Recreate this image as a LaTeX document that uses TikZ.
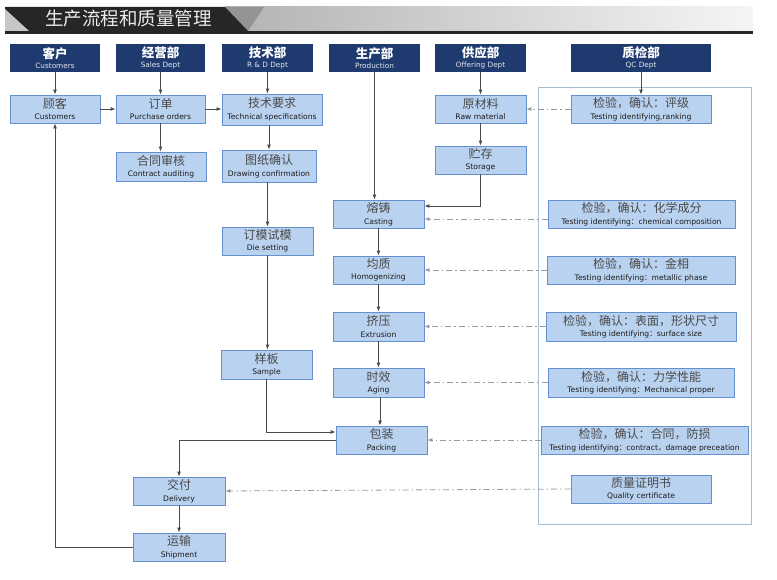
\documentclass[tikz,border=0pt]{standalone}
\usepackage{fontspec}
\usetikzlibrary{arrows.meta}
\newfontfamily\cjk{Noto Sans CJK SC}
\newfontfamily\en{DejaVu Sans}
\definecolor{navy}{HTML}{1E3A6E}
\definecolor{boxfill}{HTML}{B9D2F0}
\definecolor{boxline}{HTML}{6491CD}
\definecolor{cntext}{HTML}{4A4A4A}
\definecolor{entext}{HTML}{1A1A1A}
\definecolor{arrline}{HTML}{4A4A4A}
\definecolor{dashgray}{HTML}{9A9A9A}
\definecolor{qcframe}{HTML}{A8BCD2}
\definecolor{bandark}{HTML}{262626}
\newcommand{\hd}[2]{{\cjk\bfseries\fontsize{12.5}{13}\selectfont #1}\\[-1.5pt]{\en\color{white!88!navy}\fontsize{7.3}{8}\selectfont #2}}
\newcommand{\bx}[2]{{\cjk\color{cntext}\fontsize{12}{12}\selectfont #1}\\[-0.5pt]{\en\fontsize{7.6}{8}\selectfont #2}}
\newcommand{\fc}{{\cjk ：}}
\newcommand{\fd}{{\cjk ，}}
\begin{document}
\begin{tikzpicture}[x=1pt,y=-1pt,
  hdr/.style={draw=none,fill=navy,text=white,minimum height=28pt,inner sep=0pt,align=center},
  bxs/.style={draw=boxline,fill=boxfill,line width=0.8pt,minimum height=28pt,inner sep=0pt,align=center,text=entext},
  arr/.style={draw=arrline,line width=0.9pt,-{Latex[length=5pt,width=4pt]}},
  qarr/.style={draw=dashgray,line width=0.8pt,dash pattern=on 6pt off 3pt on 1.5pt off 3pt,-{Latex[length=5pt,width=4pt]}}]
\useasboundingbox (0,0) rectangle (777,580);
\fill[white] (0,0) rectangle (777,580);
% banner
\shade[left color=black!30,right color=black!4] (225,7) rectangle (753,31);
\fill[black!42] (225,7) -- (264,7) -- (248,31) -- cycle;
\fill[bandark] (5,7) -- (225,7) -- (248,31) -- (5,31) -- cycle;
\fill[black!22] (5,9) -- (5,31) -- (29,31) -- cycle;
\draw[black!85,line width=2.5pt] (5,32.5) -- (753,32.5);
\node[text=black!8,inner sep=0pt] (title) at (128.5,19) {\cjk\fontsize{18.5}{19}\selectfont 生产流程和质量管理};
% QC frame
\draw[qcframe,line width=0.8pt] (538,87) rectangle (751,524);
% headers
\node[hdr,minimum width=90pt] (h1) at (55,58) {\hd{客户}{Customers}};
\node[hdr,minimum width=89pt] (h2) at (160.5,58) {\hd{经营部}{Sales Dept}};
\node[hdr,minimum width=91pt] (h3) at (267.5,58) {\hd{技术部}{R \& D Dept}};
\node[hdr,minimum width=91pt] (h4) at (374.5,58) {\hd{生产部}{Production}};
\node[hdr,minimum width=91pt] (h5) at (480.5,58) {\hd{供应部}{Offering Dept}};
\node[hdr,minimum width=140pt] (h6) at (641,58) {\hd{质检部}{QC Dept}};
% boxes
\node[bxs,minimum width=90pt] (cust) at (55,109) {\bx{顾客}{Customers}};
\node[bxs,minimum width=89pt] (order) at (160.5,109) {\bx{订单}{Purchase orders}};
\node[bxs,minimum width=100pt,minimum height=31pt] (tech) at (272,109.5) {\bx{技术要求}{Technical specifications}};
\node[bxs,minimum width=91pt] (raw) at (480.5,109) {\bx{原材料}{Raw material}};
\node[bxs,minimum width=140pt] (q1) at (641,109) {\bx{检验，确认：评级}{Testing identifying,ranking}};
\node[bxs,minimum width=90pt,minimum height=29pt] (contract) at (161,166.5) {\bx{合同审核}{Contract auditing}};
\node[bxs,minimum width=94pt,minimum height=32pt] (drawing) at (269,166) {\bx{图纸确认}{Drawing confirmation}};
\node[bxs,minimum width=91pt] (store) at (480.5,160) {\bx{贮存}{Storage}};
\node[bxs,minimum width=91pt] (cast) at (378.5,214) {\bx{熔铸}{Casting}};
\node[bxs,minimum width=187pt] (q2) at (641.5,214) {\bx{检验，确认：化学成分}{Testing identifying\fc chemical composition}};
\node[bxs,minimum width=91pt] (die) at (267.5,241) {\bx{订模试模}{Die setting}};
\node[bxs,minimum width=91pt] (homo) at (378.5,270) {\bx{均质}{Homogenizing}};
\node[bxs,minimum width=188pt] (q3) at (641,270) {\bx{检验，确认：金相}{Testing identifying\fc metallic phase}};
\node[bxs,minimum width=91pt,minimum height=29pt] (extr) at (378.5,326.5) {\bx{挤压}{Extrusion}};
\node[bxs,minimum width=190pt,minimum height=29pt] (q4) at (641,326.5) {\bx{检验，确认：表面，形状尺寸}{Testing identifying\fc surface size}};
\node[bxs,minimum width=91pt,minimum height=29pt] (sample) at (266.5,364.5) {\bx{样板}{Sample}};
\node[bxs,minimum width=91pt,minimum height=29pt] (age) at (378.5,382.5) {\bx{时效}{Aging}};
\node[bxs,minimum width=186pt,minimum height=29pt] (q5) at (641,382.5) {\bx{检验，确认：力学性能}{Testing identifying\fc Mechanical proper}};
\node[bxs,minimum width=91pt] (pack) at (381.5,440) {\bx{包装}{Packing}};
\node[bxs,minimum width=207pt] (q6) at (644.5,440) {\bx{检验，确认：合同，防损}{Testing identifying\fc contract\fd damage preceation}};
\node[bxs,minimum width=140pt] (cert) at (641,489) {\bx{质量证明书}{Quality certificate}};
\node[bxs,minimum width=92pt] (deliv) at (179,491) {\bx{交付}{Delivery}};
\node[bxs,minimum width=92pt] (ship) at (179,547) {\bx{运输}{Shipment}};
\coordinate (castin) at ([yshift=-5pt]cast.east);
\coordinate (castst) at ([yshift=8pt]cast.east);
\coordinate (packin) at ([yshift=8pt]pack.west);
% header arrows
\draw[arr] (h1.south) -- (cust.north);
\draw[arr] (h2.south) -- (order.north);
\draw[arr] (h3.south) -- (h3.south |- tech.north);
\draw[arr] (h4.south) -- (h4.south |- cast.north);
\draw[arr] (h5.south) -- (raw.north);
\draw[arr] (h6.south) -- (q1.north);
% flow
\draw[arr] (cust.east) -- (order.west);
\draw[arr] (order.east) -- (order.east -| tech.west);
\draw[arr] (order.south) -- (order.south |- contract.north);
\draw[arr] (drawing.north |- tech.south) -- (drawing.north);
\draw[arr] (die.north |- drawing.south) -- (die.north);
\draw[arr] (die.south) -- (die.south |- sample.north);
\draw[arr] (sample.south) |- (packin);
\draw[arr] (raw.south) -- (store.north);
\draw[arr] (store.south) |- (castst);
\draw[arr] (cast.south) -- (homo.north);
\draw[arr] (homo.south) -- (extr.north);
\draw[arr] (extr.south) -- (age.north);
\draw[arr] ([xshift=1.5pt]age.south) -- ([xshift=1.5pt]age.south |- pack.north);
\draw[arr] (pack.west) -| (deliv.north);
\draw[arr] (deliv.south) -- (ship.north);
\draw[arr] (ship.west) -| (cust.south);
% QC dashed
\draw[qarr] (q1.west) -- (raw.east);
\draw[qarr] (q2.west |- castin) -- (castin);
\draw[qarr] (q3.west) -- (homo.east);
\draw[qarr] (q4.west) -- (extr.east);
\draw[qarr] (q5.west) -- (age.east);
\draw[qarr] (q6.west) -- (pack.east);
\draw[qarr] (cert.west) -- (deliv.east);
\end{tikzpicture}
\end{document}
